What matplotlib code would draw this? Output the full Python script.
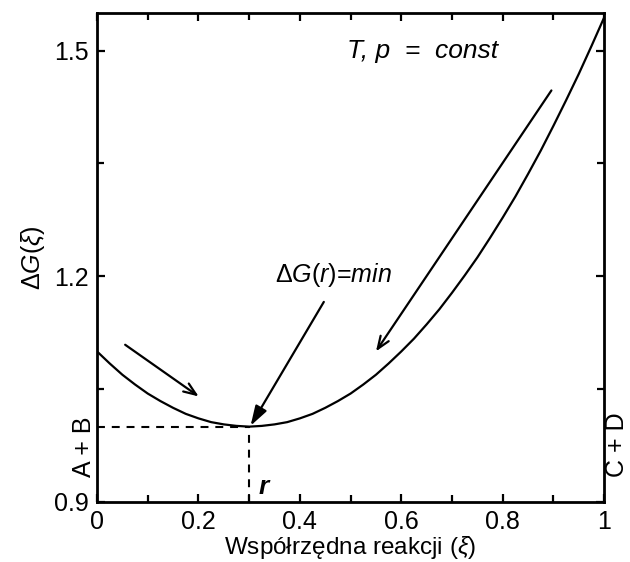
import matplotlib.pyplot as plt
from matplotlib.ticker import MultipleLocator

DPI = 100

xi = [0.0, 0.025, 0.05, 0.075, 0.1, 0.125, 0.15, 0.175, 0.2, 0.225,
      0.25, 0.275, 0.3, 0.325, 0.35, 0.375, 0.4, 0.425, 0.45, 0.475,
      0.5, 0.525, 0.55, 0.575, 0.6, 0.625, 0.65, 0.675, 0.7, 0.725,
      0.75, 0.775, 0.8, 0.825, 0.85, 0.875, 0.9, 0.925, 0.95, 0.975, 1.0]
dG = [1.100, 1.084, 1.069, 1.056, 1.044, 1.034, 1.025, 1.017, 1.011, 1.006,
      1.003, 1.001, 1.000, 1.001, 1.003, 1.006, 1.011, 1.017, 1.025, 1.034,
      1.044, 1.056, 1.069, 1.084, 1.100, 1.117, 1.136, 1.156, 1.178, 1.201,
      1.225, 1.251, 1.278, 1.306, 1.336, 1.367, 1.400, 1.434, 1.469, 1.506, 1.544]
r_min = 0.3
g_min = 1.0

plt.rcParams['font.family'] = ['Liberation Sans', 'DejaVu Sans']
plt.rcParams['mathtext.fontset'] = 'custom'
plt.rcParams['mathtext.rm'] = 'Liberation Sans'
plt.rcParams['mathtext.it'] = 'Liberation Sans:italic'
plt.rcParams['mathtext.bf'] = 'Liberation Sans:bold:italic'

fig = plt.figure(figsize=(630 / DPI, 562 / DPI), dpi=DPI)
ax = fig.add_axes([0.154, 0.107, 0.805, 0.870])

ax.plot(xi, dG, color='black', lw=1.6)

# linie przerywane do minimum
ax.plot([0, r_min], [g_min, g_min], color='black', lw=1.5, dashes=(3.8, 3.3))
ax.plot([r_min, r_min], [0.9, g_min], color='black', lw=1.5, dashes=(3.8, 3.3))

# strzalki
ax.annotate('', xy=(0.205, 1.038), xytext=(0.051, 1.111),
            arrowprops=dict(arrowstyle='->,head_length=0.9,head_width=0.35', lw=1.6, color='black'))
ax.annotate('', xy=(0.547, 1.097), xytext=(0.899, 1.450),
            arrowprops=dict(arrowstyle='->,head_length=0.9,head_width=0.35', lw=1.6, color='black'))
ax.annotate('', xy=(0.3, 0.998), xytext=(0.45, 1.169),
            arrowprops=dict(arrowstyle='-|>,head_length=1.2,head_width=0.38', lw=1.6, color='black'))

ax.text(0.641, 1.5, 'T, p  =  const', fontsize=19, fontstyle='italic', ha='center', va='center')
ax.text(0.466, 1.201, r'$\Delta G(r)$=$min$', fontsize=18, ha='center', va='center')
ax.text(0.331, 0.92, r'$\mathbf{r}$', fontsize=19, ha='center', va='center')

fig.text(84 / 630, 1 - 447 / 562, 'A + B', rotation=90, fontsize=18, ha='center', va='center')
fig.text(617 / 630, 1 - 445 / 562, 'C + D', rotation=90, fontsize=18, ha='center', va='center')

ax.set_xlim(0, 1)
ax.set_ylim(0.9, 1.55)
ax.xaxis.set_major_locator(MultipleLocator(0.2))
ax.xaxis.set_minor_locator(MultipleLocator(0.1))
ax.yaxis.set_major_locator(MultipleLocator(0.3))
ax.yaxis.set_minor_locator(MultipleLocator(0.15))
ax.xaxis.set_major_formatter(lambda v, p: f'{v:g}')
ax.yaxis.set_major_formatter(lambda v, p: f'{v:.1f}')

ax.tick_params(which='both', direction='in', top=True, right=True, width=1.6,
               labelsize=18, pad=6)
ax.tick_params(which='major', length=6)
ax.tick_params(which='minor', length=5)
for s in ax.spines.values():
    s.set_linewidth(2.0)

ax.set_xlabel(r'Współrzędna reakcji ($\xi$)', fontsize=17.5, labelpad=0)
ax.set_ylabel(r'$\Delta G(\xi)$', fontsize=18, labelpad=5)

plt.savefig('out.png', dpi=DPI)
plt.close()
